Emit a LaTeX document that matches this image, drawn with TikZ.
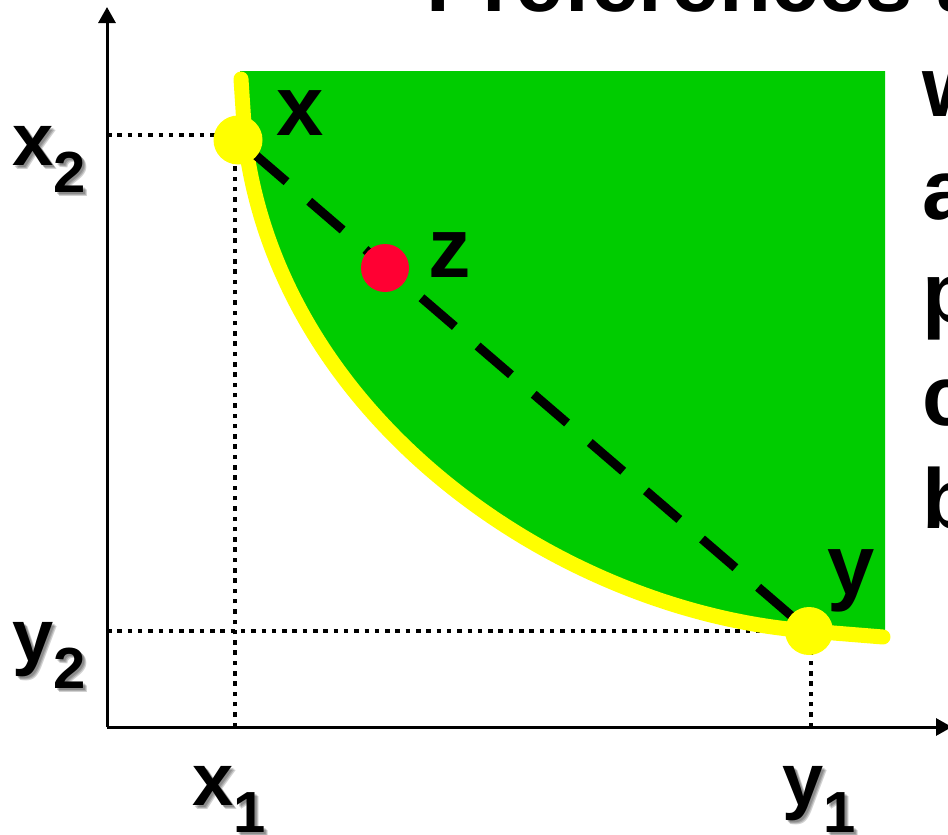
\documentclass[tikz,border=0pt]{standalone}
\usepackage{fontspec}
\setmainfont{Liberation Sans}
\usetikzlibrary{arrows.meta}
\definecolor{pgreen}{RGB}{0,204,0}
\definecolor{pyellow}{RGB}{255,255,0}
\definecolor{pred}{RGB}{255,0,51}
\newcommand{\sublab}[2]{#1\raisebox{-27pt}{\fontsize{58}{58}\selectfont #2}}
\begin{document}
\begin{tikzpicture}[x=1pt,y=-1pt,
  axislab/.style={font=\fontsize{74}{80}\selectfont\bfseries, inner sep=0pt, anchor=base west},
  shadowlab/.style={axislab, text=black, opacity=0.18},
  bigtext/.style={font=\fontsize{85}{100}\selectfont\bfseries, inner sep=0pt, anchor=base west},
  dotline/.style={line width=4.5pt, dash pattern=on 4.5pt off 5.8pt},
  dashline/.style={line width=9pt, dash pattern=on 44pt off 30pt, dash phase=54pt},
  axisline/.style={line width=3pt, -{Triangle[length=16pt,width=17pt]}},
  ptdot/.style={circle, inner sep=0pt, minimum size=48pt}]
\useasboundingbox (0,0) rectangle (948,835);
\clip (0,0) rectangle (948,835);
% coordinates
\coordinate (O) at (107,727);
\coordinate (ytop) at (107,7);
\coordinate (xend) at (952,727);
\coordinate (ax2) at (107,135);
\coordinate (ax1) at (235,727);
\coordinate (ay2) at (107,631);
\coordinate (ay1) at (811,727);
% green region
\fill[pgreen] (240,71) -- (885,71) -- (885,634) -- (809,631)
  .. controls (560,612) and (280,420) .. (245,140) -- (241,79) -- cycle;
% point nodes
\node[ptdot] (px) at (238,140) {};
\node[ptdot] (py) at (809,631) {};
\node[ptdot] (pz) at (385,268) {};
% axes
\draw[axisline] (O) -- (ytop);
\draw[axisline] (O) -- (xend);
% dotted guides
\draw[dotline] (ax2) -- (ax2 -| px.center);
\draw[dotline] (ax1) -- (ax1 |- px.center);
\draw[dotline] (ay2) -- (ay2 -| py.center);
\draw[dotline] (ay1) -- (ay1 |- py.center);
% indifference curve
\draw[pyellow, line width=15pt, line cap=round] (241,79) -- (245,140)
  .. controls (280,420) and (560,612) .. (809,631) -- (883,637);
% dashed chord
\draw[dashline] (px.center) -- (py.center);
% dots
\fill[pyellow] (px) circle (24.5pt);
\fill[pyellow] (py) circle (24pt);
\fill[pred] (pz) circle (24pt);
% point labels
\node[bigtext] (lx) at (276,135) {x};
\node[bigtext] (lz) at (428,277) {z};
\node[bigtext] (ly) at (827,594) {y};
% axis labels with soft shadows
\foreach \dx/\dy in {2/2,3/3,4/4}{
  \node[shadowlab] at (12+\dx,165+\dy) {\sublab{x}{2}};
  \node[shadowlab] at (12+\dx,661+\dy) {\sublab{y}{2}};
  \node[shadowlab] at (192+\dx,805+\dy) {\sublab{x}{1}};
  \node[shadowlab] at (782+\dx,805+\dy) {\sublab{y}{1}};
}
\node[axislab] (lx2) at (12,165) {\sublab{x}{2}};
\node[axislab] (ly2) at (12,661) {\sublab{y}{2}};
\node[axislab] (lx1) at (192,805) {\sublab{x}{1}};
\node[axislab] (ly1) at (782,805) {\sublab{y}{1}};
% clipped text
\node[bigtext] (title) at (426,12) {Preferences a};
\node[bigtext] (t1) at (922,116) {w};
\node[bigtext] (t2) at (922,219) {a};
\node[bigtext] (t3) at (922,322) {p};
\node[bigtext] (t4) at (922,425) {c};
\node[bigtext] (t5) at (922,528) {b};
\end{tikzpicture}
\end{document}
